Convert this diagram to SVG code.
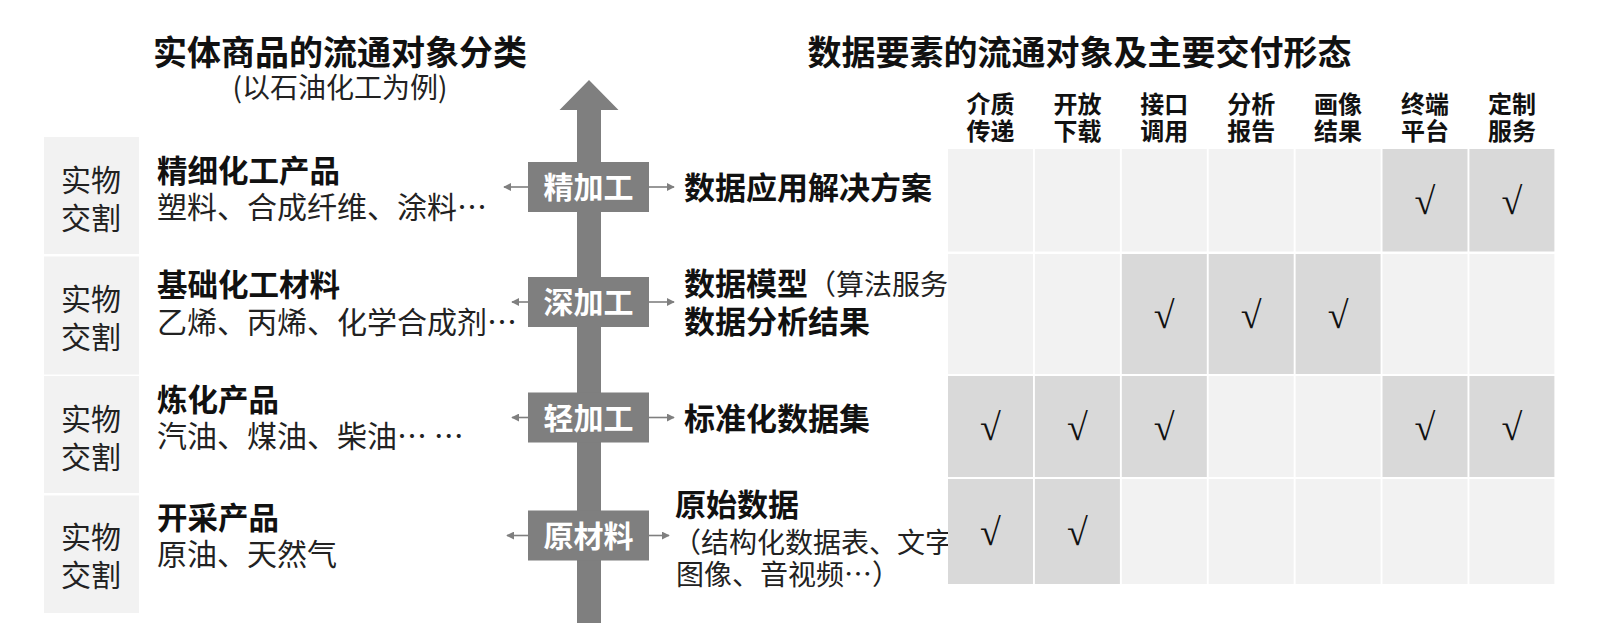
<svg xmlns="http://www.w3.org/2000/svg" width="1608" height="637" viewBox="0 0 1608 637">
<style>
text{font-family:"Noto Sans CJK SC","Noto Sans",sans-serif;fill:#111}
.t{font-size:34px;font-weight:bold}
.sub{font-size:28px;fill:#222}
.box{fill:#f2f2f2}
.lbl{font-size:30px;fill:#222;text-anchor:middle}
.h{font-size:30.5px;font-weight:bold}
.d{font-size:30px;fill:#222}
.r{font-size:31px;font-weight:bold}
.rn{font-size:28px;font-weight:normal;fill:#222}
.stage{fill:#7f7f7f}
.stxt{font-size:30px;font-weight:bold;fill:#fff;text-anchor:middle}
.lt{fill:#f2f2f2}
.dk{fill:#d9d9d9}
.hd{font-size:24px;font-weight:bold;text-anchor:middle}
.ck{font-family:"Liberation Serif",serif;font-size:38px;text-anchor:middle;fill:#111}
.con{stroke:#7f7f7f;stroke-width:1.6;fill:none;marker-end:url(#ah)}
</style>
<defs>
<marker id="ah" viewBox="0 0 10 10" refX="9" refY="5" markerWidth="8" markerHeight="8" markerUnits="userSpaceOnUse" orient="auto">
<path d="M0,0 L10,5 L0,10 z" fill="#7f7f7f"/>
</marker>
</defs>

<g id="titles">
<text class="t" x="340" y="64.5" text-anchor="middle">实体商品的流通对象分类</text>
<text class="sub" x="340" y="97.5" text-anchor="middle">(以石油化工为例)</text>
<text class="t" x="1079.5" y="64.5" text-anchor="middle">数据要素的流通对象及主要交付形态</text>
</g>

<g id="axis">
<path d="M577,623 L577,110 L559.5,110 L589,80 L618.5,110 L601,110 L601,623 Z" fill="#7f7f7f"/>
</g>

<g id="row1-left">
<rect class="box" x="44" y="137" width="95" height="117"/>
<text class="lbl" x="91" y="190.5">实物</text>
<text class="lbl" x="91" y="228.5">交割</text>
<text class="h" x="157" y="181.5">精细化工产品</text>
<text class="d" x="157" y="217.5">塑料、合成纤维、涂料…</text>
</g>
<g id="row2-left">
<rect class="box" x="44" y="256.5" width="95" height="118"/>
<text class="lbl" x="91" y="310">实物</text>
<text class="lbl" x="91" y="348">交割</text>
<text class="h" x="157" y="295.5">基础化工材料</text>
<text class="d" x="157" y="332.5">乙烯、丙烯、化学合成剂…</text>
</g>
<g id="row3-left">
<rect class="box" x="44" y="376" width="95" height="117"/>
<text class="lbl" x="91" y="429.5">实物</text>
<text class="lbl" x="91" y="467.5">交割</text>
<text class="h" x="157" y="411">炼化产品</text>
<text class="d" x="157" y="447">汽油、煤油、柴油… …</text>
</g>
<g id="row4-left">
<rect class="box" x="44" y="495.5" width="95" height="117.5"/>
<text class="lbl" x="91" y="548">实物</text>
<text class="lbl" x="91" y="586">交割</text>
<text class="h" x="157" y="529">开采产品</text>
<text class="d" x="157" y="565">原油、天然气</text>
</g>

<g id="connectors">
<line class="con" x1="528" y1="187" x2="504" y2="187"/>
<line class="con" x1="649" y1="187" x2="674" y2="187"/>
<line class="con" x1="528" y1="302" x2="512" y2="302"/>
<line class="con" x1="649" y1="302" x2="674" y2="302"/>
<line class="con" x1="528" y1="417.5" x2="512" y2="417.5"/>
<line class="con" x1="649" y1="417.5" x2="674" y2="417.5"/>
<line class="con" x1="528" y1="535.5" x2="507" y2="535.5"/>
<line class="con" x1="649" y1="535.5" x2="669" y2="535.5"/>
</g>

<g id="stage-jing">
<rect class="stage" x="528" y="162" width="121" height="50"/>
<text class="stxt" x="588.5" y="198">精加工</text>
</g>
<g id="stage-shen">
<rect class="stage" x="528" y="277" width="121" height="50"/>
<text class="stxt" x="588.5" y="313">深加工</text>
</g>
<g id="stage-qing">
<rect class="stage" x="528" y="392.5" width="121" height="50"/>
<text class="stxt" x="588.5" y="428.5">轻加工</text>
</g>
<g id="stage-yuan">
<rect class="stage" x="528" y="510.5" width="121" height="50"/>
<text class="stxt" x="588.5" y="546.5">原材料</text>
</g>

<g id="data-objects">
<text class="r" x="684" y="199">数据应用解决方案</text>
<text class="r" x="684" y="295">数据模型<tspan class="rn">（算法服务）</tspan></text>
<text class="r" x="684" y="333">数据分析结果</text>
<text class="r" x="684" y="429.5">标准化数据集</text>
<text class="r" x="675" y="516">原始数据</text>
<text class="rn" x="673" y="553">（结构化数据表、文字</text>
<text class="rn" x="676" y="584.5">图像、音视频…）</text>
</g>

<g id="header">
<text class="hd" x="990.5" y="113">介质</text><text class="hd" x="990.5" y="140">传递</text>
<text class="hd" x="1077.4" y="113">开放</text><text class="hd" x="1077.4" y="140">下载</text>
<text class="hd" x="1164.3" y="113">接口</text><text class="hd" x="1164.3" y="140">调用</text>
<text class="hd" x="1251.2" y="113">分析</text><text class="hd" x="1251.2" y="140">报告</text>
<text class="hd" x="1338.1" y="113">画像</text><text class="hd" x="1338.1" y="140">结果</text>
<text class="hd" x="1425" y="113">终端</text><text class="hd" x="1425" y="140">平台</text>
<text class="hd" x="1511.9" y="113">定制</text><text class="hd" x="1511.9" y="140">服务</text>
</g>

<g id="grid-row1">
<rect class="lt" x="948" y="149" width="85" height="102.5"/>
<rect class="lt" x="1034.9" y="149" width="85" height="102.5"/>
<rect class="lt" x="1121.8" y="149" width="85" height="102.5"/>
<rect class="lt" x="1208.7" y="149" width="85" height="102.5"/>
<rect class="lt" x="1295.6" y="149" width="85" height="102.5"/>
<rect class="dk" x="1382.5" y="149" width="85" height="102.5"/>
<rect class="dk" x="1469.4" y="149" width="85" height="102.5"/>
<text class="ck" x="1425" y="213.5">√</text>
<text class="ck" x="1511.9" y="213.5">√</text>
</g>
<g id="grid-row2">
<rect class="lt" x="948" y="254" width="85" height="120"/>
<rect class="lt" x="1034.9" y="254" width="85" height="120"/>
<rect class="dk" x="1121.8" y="254" width="85" height="120"/>
<rect class="dk" x="1208.7" y="254" width="85" height="120"/>
<rect class="dk" x="1295.6" y="254" width="85" height="120"/>
<rect class="lt" x="1382.5" y="254" width="85" height="120"/>
<rect class="lt" x="1469.4" y="254" width="85" height="120"/>
<text class="ck" x="1164.3" y="328">√</text>
<text class="ck" x="1251.2" y="328">√</text>
<text class="ck" x="1338.1" y="328">√</text>
</g>
<g id="grid-row3">
<rect class="dk" x="948" y="376" width="85" height="101"/>
<rect class="dk" x="1034.9" y="376" width="85" height="101"/>
<rect class="dk" x="1121.8" y="376" width="85" height="101"/>
<rect class="lt" x="1208.7" y="376" width="85" height="101"/>
<rect class="lt" x="1295.6" y="376" width="85" height="101"/>
<rect class="dk" x="1382.5" y="376" width="85" height="101"/>
<rect class="dk" x="1469.4" y="376" width="85" height="101"/>
<text class="ck" x="990.5" y="440">√</text>
<text class="ck" x="1077.4" y="440">√</text>
<text class="ck" x="1164.3" y="440">√</text>
<text class="ck" x="1425" y="440">√</text>
<text class="ck" x="1511.9" y="440">√</text>
</g>
<g id="grid-row4">
<rect class="dk" x="948" y="479" width="85" height="105"/>
<rect class="dk" x="1034.9" y="479" width="85" height="105"/>
<rect class="lt" x="1121.8" y="479" width="85" height="105"/>
<rect class="lt" x="1208.7" y="479" width="85" height="105"/>
<rect class="lt" x="1295.6" y="479" width="85" height="105"/>
<rect class="lt" x="1382.5" y="479" width="85" height="105"/>
<rect class="lt" x="1469.4" y="479" width="85" height="105"/>
<text class="ck" x="990.5" y="545">√</text>
<text class="ck" x="1077.4" y="545">√</text>
</g>
</svg>
